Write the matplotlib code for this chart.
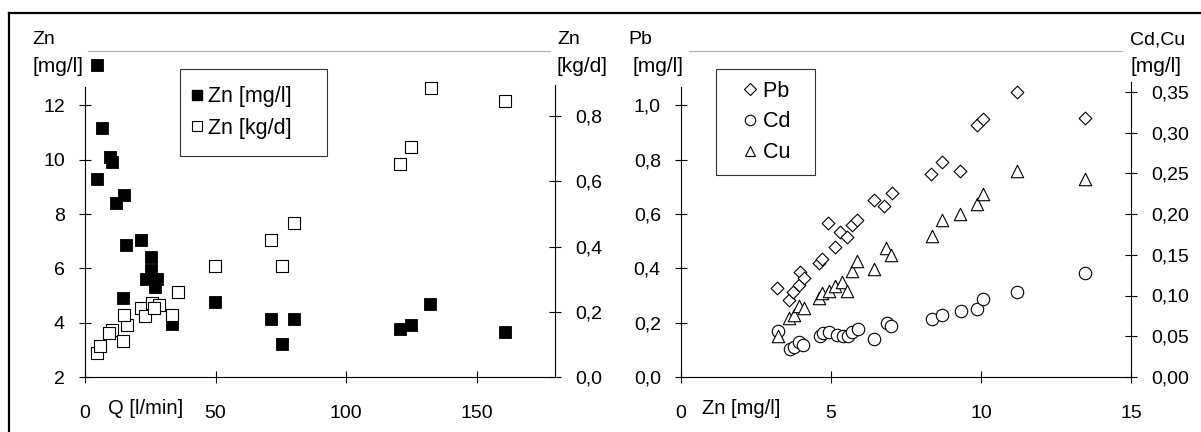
import matplotlib
matplotlib.use("Agg")
import matplotlib.pyplot as plt
from matplotlib.lines import Line2D

plt.rcParams['font.family'] = ['Liberation Sans', 'DejaVu Sans']
plt.rcParams['font.size'] = 14

# left panel: Zn vs. flow Q
q_mgl = [4.6, 6.4, 9.6, 10.5, 4.6, 15.0, 11.9, 15.8, 21.3, 25.4, 25.4, 23.3,
         27.6, 26.9, 14.4, 33.2, 49.7, 71.3, 80.1, 75.3, 120.5, 125.0, 132.3, 160.8]
zn_mgl = [13.5, 11.17, 10.1, 9.9, 9.27, 8.7, 8.4, 6.85, 7.04, 6.4, 5.93, 5.59,
          5.62, 5.3, 4.92, 3.95, 4.75, 4.13, 4.13, 3.21, 3.76, 3.91, 4.67, 3.67]
q_kgd = [4.7, 5.8, 10.4, 9.3, 16.0, 14.4, 15.1, 21.4, 23.0, 25.5, 28.2, 26.5,
         33.3, 35.5, 49.7, 71.4, 75.3, 80.1, 120.5, 125.0, 132.4, 160.8]
zn_kgd = [0.073, 0.096, 0.145, 0.134, 0.16, 0.109, 0.19, 0.211, 0.186, 0.227, 0.222, 0.211,
          0.19, 0.262, 0.342, 0.419, 0.342, 0.473, 0.654, 0.704, 0.888, 0.846]

# right panel: Pb, Cd, Cu vs. Zn
zn_pb = [3.21, 3.61, 3.74, 3.94, 3.97, 4.10, 4.61, 4.71, 4.91, 5.13, 5.30, 5.52, 5.69,
         5.88, 6.43, 6.77, 7.03, 8.32, 8.69, 9.30, 9.86, 10.06, 11.21, 13.47]
pb = [0.326, 0.283, 0.314, 0.338, 0.387, 0.366, 0.418, 0.433, 0.567, 0.479, 0.534, 0.516, 0.559,
      0.577, 0.651, 0.629, 0.676, 0.749, 0.792, 0.759, 0.926, 0.951, 1.049, 0.955]
zn_cd = [3.22, 3.63, 3.78, 3.93, 4.08, 4.63, 4.74, 4.94, 5.19, 5.41, 5.56, 5.71, 5.91,
         6.43, 6.86, 6.99, 8.36, 8.69, 9.32, 9.88, 10.08, 11.21, 13.47]
cd = [0.0566, 0.034, 0.0373, 0.0435, 0.0394, 0.0497, 0.0546, 0.055, 0.0517, 0.0497, 0.0497, 0.0558, 0.059,
      0.0464, 0.066, 0.062, 0.071, 0.0764, 0.0813, 0.0833, 0.096, 0.104, 0.127]
zn_cu = [3.22, 3.61, 3.77, 3.94, 4.10, 4.61, 4.69, 4.94, 5.13, 5.36, 5.52, 5.69, 5.88,
         6.43, 6.83, 6.99, 8.36, 8.69, 9.30, 9.86, 10.06, 11.21, 13.47]
cu = [0.0497, 0.0722, 0.0764, 0.0866, 0.0845, 0.0969, 0.103, 0.105, 0.112, 0.117, 0.106, 0.13, 0.142,
      0.133, 0.158, 0.150, 0.173, 0.1925, 0.2, 0.212, 0.224, 0.253, 0.243]

q_ticks = [0, 50, 100, 150]
zn_ticks = [0, 5, 10, 15]
l_ticks = [2, 4, 6, 8, 10, 12]
kgd_ticks = ['0,0', '0,2', '0,4', '0,6', '0,8']
pb_ticks = ['0,0', '0,2', '0,4', '0,6', '0,8', '1,0']
cdcu_ticks = ['0,00', '0,05', '0,10', '0,15', '0,20', '0,25', '0,30', '0,35']

W, H = 1201, 432
fig = plt.figure(figsize=(W / 100, H / 100), dpi=100)

def px(x0, y0, x1, y1):
    return [x0 / W, 1 - y1 / H, (x1 - x0) / W, (y1 - y0) / H]

def style(ax, axr, xlim, ylim, ylim_r, top_b, left_top, right_top):
    ax.set_xlim(*xlim)
    ax.set_ylim(*ylim)
    axr.set_ylim(*ylim_r)
    for a in (ax, axr):
        a.tick_params(direction='inout', length=9, width=0.8, labelsize=14)
        for s in a.spines.values():
            s.set_visible(False)
    ax.spines['bottom'].set_visible(True)
    ax.spines['left'].set_visible(True)
    ax.spines['left'].set_bounds(ylim[0], left_top)
    ax.spines['top'].set_visible(True)
    ax.spines['top'].set_color('#b0b0b0')
    ax.spines['top'].set_bounds(*top_b)
    axr.spines['right'].set_visible(True)
    axr.spines['right'].set_bounds(ylim_r[0], right_top)
    ax.tick_params(axis='x', pad=16, top=False)
    ax.tick_params(axis='y', pad=10)
    axr.tick_params(axis='y', pad=10)
    for s in ('bottom', 'left', 'top'):
        ax.spines[s].set_linewidth(0.8)
    axr.spines['right'].set_linewidth(0.8)

def add_legend(axr, handles, labels, x0, hlen, hpad, lspace, bpad):
    leg = axr.legend(handles, labels, loc='upper left', bbox_to_anchor=(x0, 0.945),
                     borderaxespad=0, frameon=True, fancybox=False, edgecolor='black',
                     handlelength=hlen, handletextpad=hpad, labelspacing=lspace,
                     borderpad=bpad, fontsize=15.5)
    leg.get_frame().set_linewidth(0.8)
    return leg

# ---- left panel ----
ax1 = fig.add_axes(px(85, 51, 555, 377))
ax1r = ax1.twinx()
ax1.scatter(q_mgl, zn_mgl, marker='s', s=78, c='black', edgecolors='black', linewidths=0.6, zorder=3)
ax1r.scatter(q_kgd, zn_kgd, marker='s', s=78, c='white', edgecolors='black', linewidths=0.8, zorder=3)
style(ax1, ax1r, (0, 180), (2, 14), (0, 1.0), (1, 178), 12.66, 0.895)
ax1.set_xticks(q_ticks)
ax1.set_yticks(l_ticks)
ax1r.set_yticks([0, 0.2, 0.4, 0.6, 0.8])
ax1r.set_yticklabels(kgd_ticks)

h1 = [Line2D([], [], ls='', marker='s', ms=7.5, mfc='black', mec='black'),
      Line2D([], [], ls='', marker='s', ms=6.5, mfc='white', mec='black', mew=0.8)]
add_legend(ax1r, h1, ['Zn [mg/l]   ', 'Zn [kg/d]   '], 0.202, 0.0, 0.5, 0.5, 0.8)

fig.text(32 / W, 1 - 40 / H, 'Zn', ha='left', va='center', fontsize=14)
fig.text(32 / W, 1 - 67 / H, '[mg/l]', ha='left', va='center', fontsize=15)
fig.text(557 / W, 1 - 40 / H, 'Zn', ha='left', va='center', fontsize=14)
fig.text(557 / W, 1 - 67 / H, '[kg/d]', ha='left', va='center', fontsize=15)
fig.text(146 / W, 1 - 409 / H, 'Q [l/min]', ha='center', va='center', fontsize=14.5)

# ---- right panel ----
ax2 = fig.add_axes(px(681, 51, 1131, 377))
ax2r = ax2.twinx()
ax2.scatter(zn_pb, pb, marker='D', s=42, c='white', edgecolors='black', linewidths=0.8, zorder=3)
ax2r.scatter(zn_cd, cd, marker='o', s=80, c='white', edgecolors='black', linewidths=0.8, zorder=3)
ax2r.scatter(zn_cu, cu, marker='^', s=80, c='white', edgecolors='black', linewidths=0.8, zorder=3)
style(ax2, ax2r, (0, 15), (0, 1.2), (0, 0.40), (0.27, 14.7), 1.066, 0.362)
ax2.set_xticks(zn_ticks)
ax2.set_yticks([0, 0.2, 0.4, 0.6, 0.8, 1.0])
ax2.set_yticklabels(pb_ticks)
ax2r.set_yticks([0, 0.05, 0.10, 0.15, 0.20, 0.25, 0.30, 0.35])
ax2r.set_yticklabels(cdcu_ticks)

h2 = [Line2D([], [], ls='', marker='D', ms=6, mfc='white', mec='black', mew=0.8),
      Line2D([], [], ls='', marker='o', ms=7.5, mfc='white', mec='black', mew=0.8),
      Line2D([], [], ls='', marker='^', ms=7.5, mfc='white', mec='black', mew=0.8)]
add_legend(ax2r, h2, ['Pb  ', 'Cd  ', 'Cu  '], 0.078, 2.07, -0.42, 0.45, 0.55)

fig.text(628 / W, 1 - 40 / H, 'Pb', ha='left', va='center', fontsize=14)
fig.text(683 / W, 1 - 67 / H, '[mg/l]', ha='right', va='center', fontsize=15)
fig.text(1130 / W, 1 - 40 / H, 'Cd,Cu', ha='left', va='center', fontsize=14)
fig.text(1130 / W, 1 - 67 / H, '[mg/l]', ha='left', va='center', fontsize=15)
fig.text(741 / W, 1 - 409 / H, 'Zn [mg/l]', ha='center', va='center', fontsize=14.5)

# outer frame (top and left edge only)
fig.add_artist(Line2D([8.5 / W, 1], [1 - 13 / H, 1 - 13 / H], color='black', lw=1.6))
fig.add_artist(Line2D([8.5 / W, 8.5 / W], [0, 1 - 13 / H], color='black', lw=1.6))

fig.savefig('out.png', dpi=100)
